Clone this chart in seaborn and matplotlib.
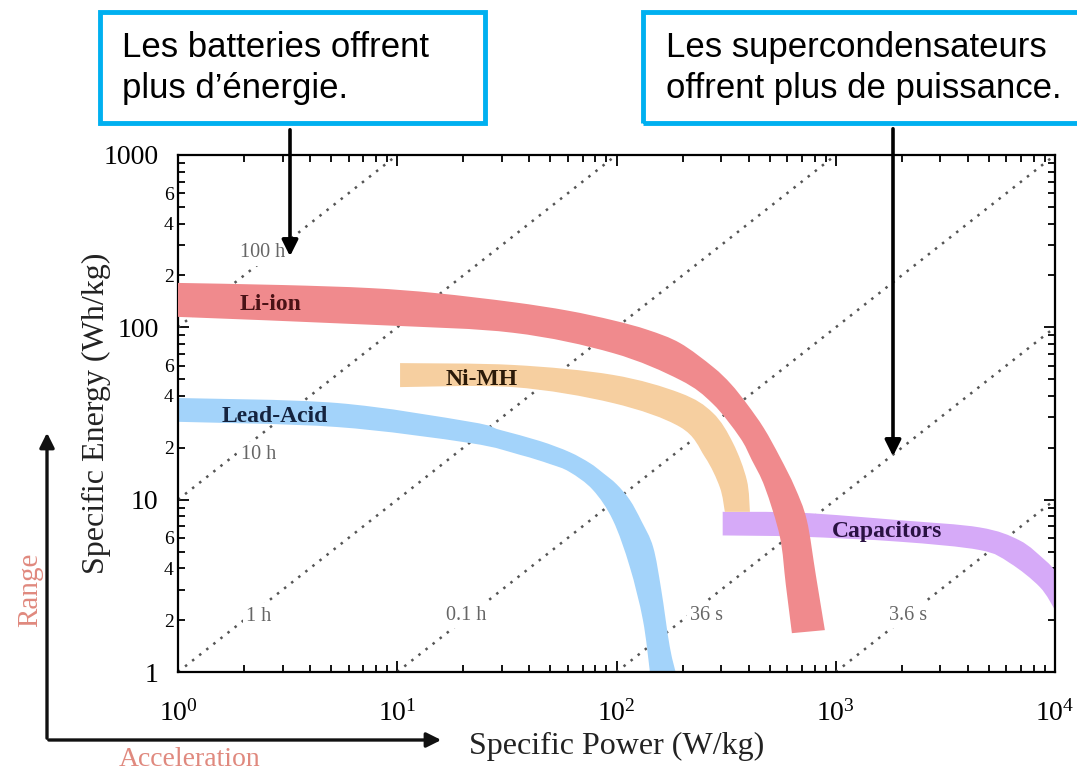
import numpy as np
import pandas as pd
import matplotlib
matplotlib.use("Agg")
import matplotlib.pyplot as plt
import seaborn as sns
from matplotlib.patches import Rectangle, FancyArrowPatch, PathPatch
from matplotlib.path import Path

# ---- Ragone bands: outer and inner edges (specific power W/kg, specific energy Wh/kg)
li_ion_outer_power = [1, 3, 7.5, 15, 33.7, 60, 96, 139, 195, 275, 332, 393, 470, 556, 651, 738, 811, 892]
li_ion_outer_energy = [181, 176, 169, 158, 140, 125, 110, 96.6, 81, 59, 47, 36, 26, 17.7, 11.8, 7.6, 3.66, 1.75]
li_ion_inner_power = [631, 592, 556, 475, 414, 365, 275, 195, 96, 33.7, 8.3, 1]
li_ion_inner_energy = [1.68, 3.2, 6.1, 11.8, 17, 23, 36, 49.5, 71, 93, 103, 115]

nimh_outer_power = [10.3, 33.7, 96, 195, 275, 340, 393, 406]
nimh_outer_energy = [62, 60.5, 53, 41.6, 31.9, 21.3, 13, 8.5]
nimh_inner_power = [312, 296, 253, 195, 96, 33.7, 10.3]
nimh_inner_energy = [8.5, 11.8, 17.7, 26.4, 36.4, 45, 45]

lead_outer_power = [1, 5.3, 21.5, 29.4, 44.7, 61, 75.6, 86.7, 100, 115, 130, 147, 160, 175, 190]
lead_outer_energy = [38.9, 36.4, 28.3, 25.4, 21.9, 18.9, 16.3, 14.3, 12.3, 9.96, 7.5, 5.3, 3.0, 1.4, 0.9]
lead_inner_power = [143, 142, 132, 115, 96.3, 78, 61, 49.7, 36.3, 21.5, 5.3, 1]
lead_inner_energy = [0.9, 1.0, 2.0, 4.07, 7.6, 11.4, 14.5, 16.1, 18.2, 21.3, 26.4, 28.3]

cap_outer_power = [305, 686, 1960, 4540, 6900, 8980, 10000]
cap_outer_energy = [8.5, 8.4, 7.6, 6.9, 5.8, 4.47, 3.9]
cap_inner_power = [10000, 8530, 6220, 4540, 1960, 686, 305]
cap_inner_energy = [2.29, 3.11, 4.29, 5.1, 5.7, 6.1, 6.2]

# ---- constant discharge-time lines (hours) and their labels
durations_h = [100, 10, 1, 0.1, 0.01, 0.001]
duration_labels = ["100 h", "10 h", "1 h", "0.1 h", "36 s", "3.6 s"]
duration_label_power = [2.42, 2.32, 2.34, 20.6, 258, 2133]
duration_label_energy = [270, 18.2, 2.11, 2.14, 2.14, 2.14]

# ---- band names
band_names = ["Li-ion", "Ni-MH", "Lead-Acid", "Capacitors"]
band_label_power = [2.63, 24.3, 2.77, 1710]
band_label_energy = [135, 49.5, 30.2, 6.5]
band_colors = ["#F08A8D", "#F6CFA0", "#A3D3FA", "#D6AAF8"]
band_text_colors = ["#4A1216", "#2B1A08", "#14233F", "#2A1242"]

# ---- axis ticks
x_major = [1, 10, 100, 1000, 10000]
x_major_labels = [r"$\mathregular{10^{0}}$", r"$\mathregular{10^{1}}$", r"$\mathregular{10^{2}}$",
                  r"$\mathregular{10^{3}}$", r"$\mathregular{10^{4}}$"]
y_major = [1, 10, 100, 1000]
y_major_labels = ["1", "10", "100", "1000"]
minor_steps = [2, 3, 4, 5, 6, 7, 8, 9]
minor_labelled = [2, 4, 6]

W, H = 1077, 774
sns.set_theme(style="ticks")
plt.rcParams["font.family"] = ["Liberation Serif", "DejaVu Serif"]
plt.rcParams["mathtext.default"] = "regular"

fig = plt.figure(figsize=(W / 100, H / 100), dpi=100)
fig.patch.set_facecolor("white")
ax = fig.add_axes([178 / W, 1 - 672 / H, (1055 - 178) / W, (672 - 155) / H])
ax.set_facecolor("white")
ax.set_xscale("log")
ax.set_yscale("log")
ax.set_xlim(1, 1e4)
ax.set_ylim(1, 1000)

# constant-time diagonals E = P * t
rows = []
for t, name in zip(durations_h, duration_labels):
    p0 = max(1.0, 1.0 / t)
    p1 = min(1e4, 1000.0 / t)
    rows += [{"power": p0, "energy": p0 * t, "line": name},
             {"power": p1, "energy": p1 * t, "line": name}]
diag = pd.DataFrame(rows)
for name, grp in diag.groupby("line", sort=False):
    sns.lineplot(data=grp, x="power", y="energy", ax=ax, color="#555555",
                 linewidth=1.8, linestyle=(0, (1.0, 2.6)), estimator=None,
                 sort=False, legend=False, zorder=1)
for lab, px, py in zip(duration_labels, duration_label_power, duration_label_energy):
    ax.text(px, py, lab, ha="center", va="center", fontsize=14.5, color="#666666",
            zorder=1.5, bbox=dict(facecolor="white", edgecolor="none", pad=2.5))


def bezier_edge(px, py):
    """Cubic Bezier segments (Catmull-Rom tangents, log space) passing through every edge point."""
    P = np.column_stack([np.log10(px), np.log10(py)])
    n = len(P)
    verts, codes = [], []
    for i in range(n - 1):
        p_prev = P[i - 1] if i > 0 else P[i]
        p_next2 = P[i + 2] if i + 2 < n else P[i + 1]
        c1 = P[i] + (P[i + 1] - p_prev) / 6.0
        c2 = P[i + 1] - (p_next2 - P[i]) / 6.0
        verts += [c1, c2, P[i + 1]]
        codes += [Path.CURVE4] * 3
    return P[0], verts, codes


def band_path(op, oe, ip, ie):
    start, v1, c1 = bezier_edge(op, oe)
    start2, v2, c2 = bezier_edge(ip, ie)
    verts = [start] + v1 + [start2] + v2 + [start]
    codes = [Path.MOVETO] + c1 + [Path.LINETO] + c2 + [Path.CLOSEPOLY]
    return Path(10 ** np.array(verts), codes)


bands = [
    (cap_outer_power, cap_outer_energy, cap_inner_power, cap_inner_energy, 3, 2),
    (lead_outer_power, lead_outer_energy, lead_inner_power, lead_inner_energy, 2, 2),
    (nimh_outer_power, nimh_outer_energy, nimh_inner_power, nimh_inner_energy, 1, 3),
    (li_ion_outer_power, li_ion_outer_energy, li_ion_inner_power, li_ion_inner_energy, 0, 4),
]
for op, oe, ip, ie, ci, z in bands:
    ax.add_patch(PathPatch(band_path(op, oe, ip, ie), facecolor=band_colors[ci],
                           edgecolor="none", lw=0, zorder=z))

for name, px, py, tc in zip(band_names, band_label_power, band_label_energy, band_text_colors):
    ax.text(px, py, name, ha="center", va="center", fontsize=17, fontweight="bold",
            color=tc, zorder=6)

# ticks
minor_pos = [s * 10 ** d for d in range(0, 4) for s in minor_steps]
ax.set_xticks(x_major)
ax.set_xticklabels(x_major_labels, fontsize=20)
ax.set_xticks(minor_pos, minor=True)
ax.set_xticklabels([""] * len(minor_pos), minor=True)
ax.set_yticks(y_major)
ax.set_yticklabels(y_major_labels, fontsize=20)
y_minor = [s * 10 ** d for d in range(0, 3) for s in minor_steps]
ax.set_yticks(y_minor, minor=True)
ax.set_yticklabels([str(s) if s in minor_labelled else ""
                    for d in range(0, 3) for s in minor_steps], minor=True, fontsize=14)
ax.tick_params(which="both", direction="in", top=True, right=True, colors="black",
               width=1.3)
ax.tick_params(which="major", length=8)
ax.tick_params(which="minor", length=5)
ax.tick_params(axis="x", which="major", pad=20)
ax.tick_params(axis="y", which="major", pad=14)
ax.tick_params(axis="y", which="minor", pad=3)
for sp in ax.spines.values():
    sp.set_color("black")
    sp.set_linewidth(1.6)
    sp.set_visible(True)

ax.set_xlabel("Specific Power (W/kg)", fontsize=23, color="#222222")
ax.set_ylabel("Specific Energy (Wh/kg)", fontsize=23, color="#222222")
ax.xaxis.set_label_coords((617 - 178) / (1055 - 178), -(732 - 672) / (672 - 155))
ax.yaxis.set_label_coords(-(178 - 111) / (1055 - 178), 0.5)


def fx(x):
    return x / W


def fy(y):
    return 1 - y / H


# Range / Acceleration axes
fig.add_artist(FancyArrowPatch((fx(47), fy(741)), (fx(47), fy(430)), transform=fig.transFigure,
                               arrowstyle="-|>", mutation_scale=22, lw=2.4, color="#111111"))
fig.add_artist(FancyArrowPatch((fx(46), fy(740)), (fx(444), fy(740)), transform=fig.transFigure,
                               arrowstyle="-|>", mutation_scale=22, lw=2.4, color="#111111"))
fig.text(fx(30), fy(590), "Range", rotation=90, ha="center", va="center", fontsize=21,
         color="#E0897E")
fig.text(fx(190), fy(759), "Acceleration", ha="center", va="center", fontsize=20,
         color="#E0897E")

# callout boxes
box_color = "#00B0F0"
fig.add_artist(Rectangle((fx(100), fy(123)), fx(485 - 100), (123 - 12) / H,
                         transform=fig.transFigure, fill=False, edgecolor=box_color, lw=3.5))
fig.add_artist(Rectangle((fx(643), fy(123)), fx(1090 - 643), (123 - 12) / H,
                         transform=fig.transFigure, fill=False, edgecolor=box_color, lw=3.5))
box_font = ["Liberation Sans", "DejaVu Sans"]
fig.text(fx(122), fy(68), "Les batteries offrent\nplus d\u2019\u00e9nergie.", ha="left", va="center",
         fontsize=25, family=box_font, color="black", linespacing=1.3)
fig.text(fx(666), fy(68), "Les supercondensateurs\noffrent plus de puissance.", ha="left",
         va="center", fontsize=25, family=box_font, color="black", linespacing=1.3)

fig.add_artist(FancyArrowPatch((fx(290), fy(127)), (fx(290), fy(259)), transform=fig.transFigure,
                               arrowstyle="-|>", mutation_scale=24, lw=2.6, color="black"))
fig.add_artist(FancyArrowPatch((fx(893), fy(126)), (fx(893), fy(459)), transform=fig.transFigure,
                               arrowstyle="-|>", mutation_scale=24, lw=2.6, color="black"))

fig.savefig("out.png", dpi=100, facecolor="white")
